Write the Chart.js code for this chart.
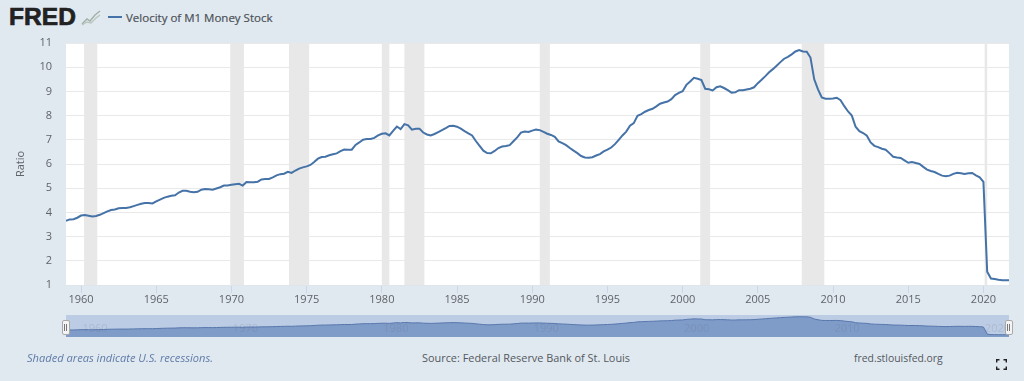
<!DOCTYPE html>
<html>
<head>
<meta charset="utf-8">
<script src="https://cdn.jsdelivr.net/npm/chart.js@4/dist/chart.umd.min.js"></script>
<style>
  html, body { margin: 0; padding: 0; }
  body { width: 1024px; height: 381px; background: #e1e9f0; position: relative; overflow: hidden; font-family: "Open Sans", sans-serif; color: #5a5f66; }
  .abs { position: absolute; white-space: nowrap; }
  #logo { left: 9px; top: 3px; font: bold 24.5px "Liberation Sans", sans-serif; line-height: 28px; color: #222; -webkit-text-stroke: 0.7px #222; letter-spacing: 0.1px; }
  #legendLine { left: 108px; top: 16px; width: 14px; height: 2px; background: #4572a7; }
  #legendText { left: 126px; top: 9px; font-size: 11.5px; line-height: 17px; color: #4c5157; -webkit-text-stroke: 0.2px #4c5157; }
  #mainWrap { left: 0; top: 0; width: 1024px; height: 310px; }
  #navWrap { left: 66px; top: 315px; width: 943px; height: 22px; }
  .handle { width: 6px; height: 13px; top: 320px; background: #f4f4f4; border: 1px solid #a9a9a9; border-radius: 2px; }
  .handle i { position: absolute; top: 3px; width: 1px; height: 7px; background: #777; }
  .foot { top: 350px; line-height: 16px; }
  #note { left: 27px; font-size: 11.1px; font-style: italic; color: #5f7ba8; }
  #source { left: 422px; font-size: 10.9px; color: #53585e; }
  #site { left: 854px; font-size: 10.4px; color: #53585e; }
</style>
</head>
<body>
<div class="abs" id="logo">FRED</div>
<svg class="abs" style="left:81px;top:9px" width="20" height="17" viewBox="0 0 20 17">
  <path d="M1 15 L6 10 L9 12 L14 6 L19 2" fill="none" stroke="#9fb0a6" stroke-width="1.4"/>
  <path d="M1 16 L6 13 L10 14 L15 9 L19 6" fill="none" stroke="#b9c6bd" stroke-width="1.4"/>
</svg>
<div class="abs" id="legendLine"></div>
<div class="abs" id="legendText">Velocity of M1 Money Stock</div>

<div class="abs" id="mainWrap"><canvas id="mainChart"></canvas></div>
<div class="abs" id="navWrap"><canvas id="navChart"></canvas></div>
<div class="abs handle" style="left:62px"><i style="left:1px"></i><i style="left:3px"></i></div>
<div class="abs handle" style="left:1005px"><i style="left:1px"></i><i style="left:3px"></i></div>

<div class="abs foot" id="note">Shaded areas indicate U.S. recessions.</div>
<div class="abs foot" id="source">Source: Federal Reserve Bank of St. Louis</div>
<div class="abs foot" id="site">fred.stlouisfed.org</div>
<svg class="abs" style="left:996px;top:359px" width="11" height="11" viewBox="0 0 11 11">
  <path d="M0.7 3.5 V0.7 H3.5 M7.5 0.7 H10.3 V3.5 M10.3 7.5 V10.3 H7.5 M3.5 10.3 H0.7 V7.5" fill="none" stroke="#222" stroke-width="1.4"/>
</svg>

<script>
var seriesName = 'Velocity of M1 Money Stock';
var firstYear = 1959;

// quarterly, one row per year from 1959
var velocity = [
  3.65, 3.71, 3.72, 3.78,
  3.87, 3.89, 3.86, 3.83,
  3.85, 3.90, 3.97, 4.04,
  4.10, 4.12, 4.17, 4.18,
  4.18, 4.21, 4.26, 4.31,
  4.36, 4.39, 4.39, 4.37,
  4.46, 4.53, 4.60, 4.65,
  4.69, 4.71, 4.82, 4.89,
  4.89, 4.85, 4.83, 4.85,
  4.94, 4.97, 4.96, 4.94,
  4.99, 5.04, 5.11, 5.11,
  5.14, 5.16, 5.18, 5.11,
  5.26, 5.25, 5.25, 5.27,
  5.36, 5.38, 5.38, 5.45,
  5.53, 5.58, 5.60, 5.68,
  5.63, 5.73, 5.81, 5.86,
  5.90, 5.96, 6.08, 6.22,
  6.29, 6.30, 6.36, 6.40,
  6.44, 6.53, 6.60, 6.59,
  6.59, 6.79, 6.89, 7.00,
  7.03, 7.03, 7.08, 7.18,
  7.25, 7.27, 7.18, 7.37,
  7.55, 7.44, 7.65, 7.60,
  7.42, 7.46, 7.46, 7.30,
  7.22, 7.18, 7.24, 7.32,
  7.40, 7.48, 7.57, 7.58,
  7.54, 7.46, 7.36, 7.27,
  7.18, 6.95, 6.75, 6.55,
  6.45, 6.44, 6.54, 6.66,
  6.72, 6.74, 6.78, 6.94,
  7.10, 7.30, 7.34, 7.32,
  7.38, 7.42, 7.40, 7.33,
  7.25, 7.20, 7.12, 6.93,
  6.86, 6.78, 6.66, 6.55,
  6.45, 6.33, 6.27, 6.26,
  6.28, 6.35, 6.41, 6.52,
  6.59, 6.68, 6.82, 7.00,
  7.18, 7.34, 7.58, 7.69,
  7.99, 8.06, 8.16, 8.23,
  8.28, 8.38, 8.49, 8.54,
  8.58, 8.68, 8.85, 8.94,
  9.01, 9.27, 9.41, 9.56,
  9.52, 9.47, 9.11, 9.09,
  9.04, 9.17, 9.21, 9.14,
  9.05, 8.95, 8.96, 9.05,
  9.05, 9.08, 9.11, 9.17,
  9.34, 9.48, 9.63, 9.79,
  9.92, 10.06, 10.21, 10.35,
  10.43, 10.53, 10.65, 10.71,
  10.65, 10.64, 10.40, 9.50,
  9.08, 8.75, 8.70, 8.70,
  8.71, 8.74, 8.64, 8.39,
  8.17, 8.00, 7.54, 7.36,
  7.28, 7.17, 6.89, 6.75,
  6.70, 6.63, 6.59, 6.45,
  6.30, 6.27, 6.25, 6.15,
  6.05, 6.08, 6.04, 6.00,
  5.88, 5.77, 5.71, 5.67,
  5.59, 5.52, 5.49, 5.52,
  5.59, 5.64, 5.62, 5.59,
  5.62, 5.63, 5.53, 5.45,
  5.26, 1.55, 1.27, 1.25,
  1.22, 1.20, 1.20, 1.20
];

// recession start / end in decimal years
var recessionStart = [1960.2, 1969.92, 1973.83, 1980.0, 1981.5, 1990.5, 2001.17, 2007.92, 2020.08];
var recessionEnd   = [1961.08, 1970.83, 1975.17, 1980.5, 1982.83, 1991.17, 2001.83, 2009.42, 2020.25];

var navLabels = [1960, 1970, 1980, 1990, 2000, 2010, 2020];

var points = velocity.map(function (v, i) {
  return { x: firstYear + i / 4, y: v };
});

var lineColor = '#4572a7';
var fontName = '"Open Sans", sans-serif';

var recessionBands = {
  id: 'recessionBands',
  beforeDraw: function (chart) {
    var a = chart.chartArea;
    chart.ctx.fillStyle = '#ffffff';
    chart.ctx.fillRect(a.left, a.top, a.right - a.left, a.bottom - a.top);
  },
  beforeDatasetsDraw: function (chart) {
    var a = chart.chartArea, x = chart.scales.x;
    chart.ctx.save();
    chart.ctx.fillStyle = '#e8e8e8';
    recessionStart.forEach(function (s, i) {
      var x0 = x.getPixelForValue(s), x1 = x.getPixelForValue(recessionEnd[i]);
      chart.ctx.fillRect(x0, a.top, x1 - x0, a.bottom - a.top);
    });
    chart.ctx.restore();
  }
};

new Chart(document.getElementById('mainChart'), {
  type: 'line',
  data: {
    datasets: [{
      label: seriesName,
      data: points,
      borderColor: lineColor,
      borderWidth: 2,
      pointRadius: 0,
      tension: 0
    }]
  },
  options: {
    responsive: true,
    maintainAspectRatio: false,
    animation: false,
    layout: { padding: { top: 43, right: 15, left: 14, bottom: 0 } },
    plugins: { legend: { display: false }, tooltip: { enabled: false } },
    scales: {
      x: {
        type: 'linear',
        min: firstYear,
        max: 2021.7,
        afterFit: function (s) { s.height = 25; },
        border: { color: '#dfe5ee' },
        grid: { drawOnChartArea: false, tickLength: 8, color: '#ccd6eb' },
        ticks: {
          stepSize: 5,
          includeBounds: false,
          autoSkip: false,
          maxRotation: 0,
          padding: 0,
          color: '#5f6368',
          font: { family: fontName, size: 11 },
          callback: function (v) { return String(v); }
        }
      },
      y: {
        min: 1,
        max: 11,
        afterFit: function (s) { s.width = 52; },
        border: { display: false },
        grid: { color: '#e9e9e9', drawTicks: false },
        title: {
          display: true,
          text: 'Ratio',
          color: '#5f6368',
          font: { family: fontName, size: 11 },
          padding: { top: 0, bottom: 0 }
        },
        ticks: {
          stepSize: 1,
          padding: 14,
          color: '#5f6368',
          font: { family: fontName, size: 11 }
        }
      }
    }
  },
  plugins: [recessionBands]
});

var navBackground = {
  id: 'navBackground',
  beforeDraw: function (chart) {
    chart.ctx.fillStyle = '#bccce4';
    chart.ctx.fillRect(0, 0, chart.width, chart.height);
  },
  afterDatasetsDraw: function (chart) {
    var x = chart.scales.x;
    chart.ctx.save();
    chart.ctx.fillStyle = 'rgba(90,100,120,0.16)';
    chart.ctx.font = '11px ' + fontName;
    chart.ctx.textAlign = 'center';
    chart.ctx.textBaseline = 'middle';
    navLabels.forEach(function (year) {
      chart.ctx.fillText(String(year), x.getPixelForValue(year) + 14, 14);
    });
    chart.ctx.restore();
  }
};

new Chart(document.getElementById('navChart'), {
  type: 'line',
  data: {
    datasets: [{
      data: points,
      borderColor: '#5878ad',
      borderWidth: 1,
      backgroundColor: '#7f9bc8',
      fill: 'origin',
      pointRadius: 0,
      tension: 0
    }]
  },
  options: {
    responsive: true,
    maintainAspectRatio: false,
    animation: false,
    layout: { padding: 0 },
    plugins: { legend: { display: false }, tooltip: { enabled: false } },
    scales: {
      x: { type: 'linear', min: firstYear, max: 2021.7, display: false },
      y: { min: 0, max: 11.6, display: false }
    }
  },
  plugins: [navBackground]
});
</script>
</body>
</html>
